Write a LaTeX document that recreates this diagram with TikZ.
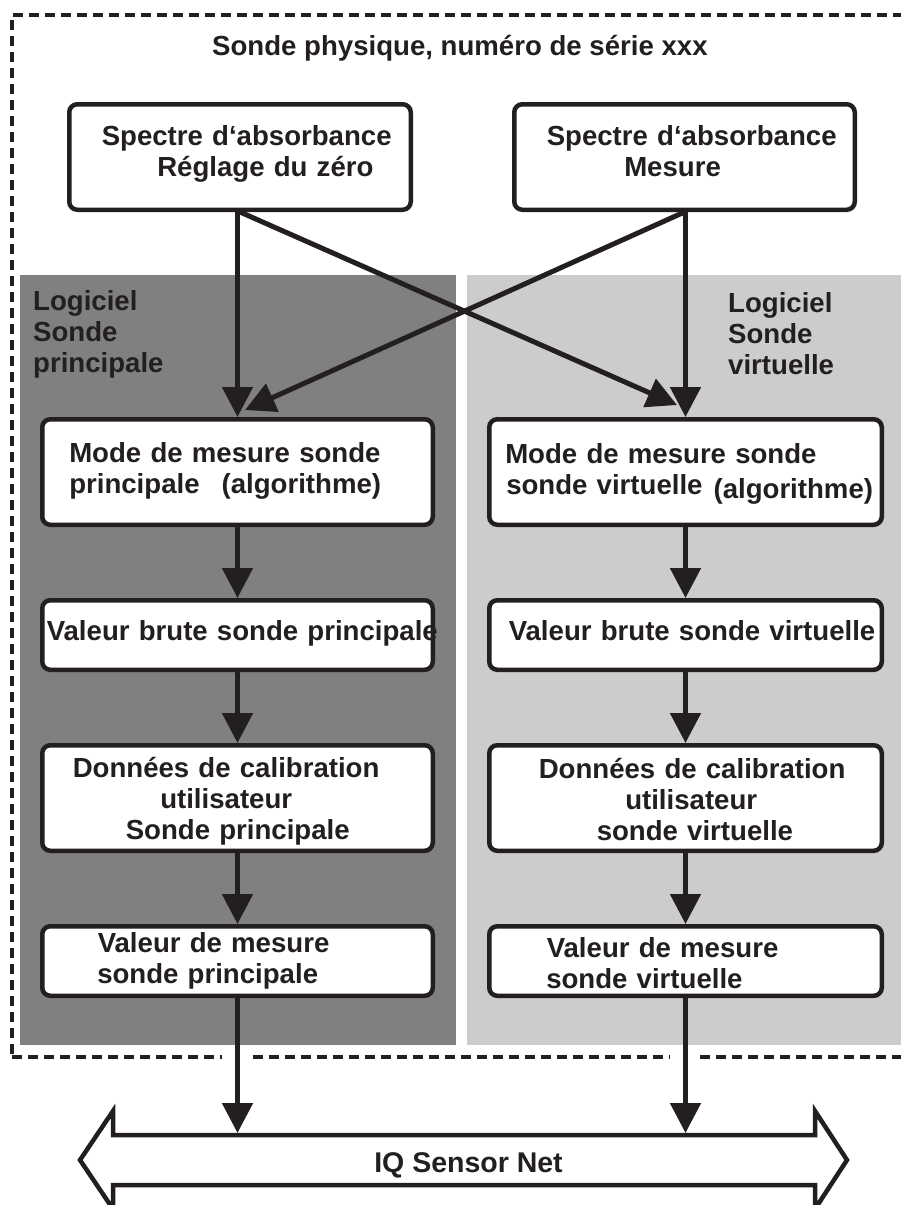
\documentclass[tikz,border=0pt]{standalone}
\usepackage{fontspec}
\setmainfont{Liberation Sans}
\usetikzlibrary{arrows.meta,calc}
\definecolor{ink}{RGB}{35,31,32}
\definecolor{panelA}{RGB}{128,128,128}
\definecolor{panelB}{RGB}{204,204,204}
\newcommand{\lineat}[2]{\hspace*{#1pt}\mbox{#2}}
\newcommand{\bigtxt}{\fontsize{27.6}{31}\selectfont\bfseries}
\begin{document}
\begin{tikzpicture}[x=1pt,y=-1pt,
  box/.style={draw=ink, line width=4.5pt, rounded corners=8pt, fill=white,
    inner sep=0pt, align=left, text=ink, font=\bigtxt, text height=20pt},
  colL/.style={box, text width=390.5pt, minimum width=390.5pt},
  colR/.style={box, text width=392.5pt, minimum width=392.5pt},
  tall/.style={minimum height=105.5pt},
  short/.style={minimum height=69.5pt},
  arr/.style={draw=ink, line width=5pt, -{Triangle[width=30pt,length=30pt]}},
  lab/.style={text=ink, font=\bigtxt, inner sep=0pt, align=left,
    text width=220pt, anchor=north west, text height=20pt, text depth=70pt},
  frame/.style={draw=ink, line width=4.5pt, dash pattern=on 10pt off 6pt}]
\useasboundingbox (0,0) rectangle (901,1205);
% panels
\fill[panelA] (20,275) rectangle (456,1045);
\fill[panelB] (467,275) rectangle (905,1045);
% dashed frame
\draw[frame] (12,1054) -- (12,15) -- (905,15);
\draw[frame] (12,1057) -- (222,1057);
\draw[frame] (253,1057) -- (670,1057);
\draw[frame] (700,1057) -- (905,1057);
% title and labels
\node[anchor=base west, inner sep=0pt, text=ink, font=\bigtxt] (title) at (212,55) {Sonde physique, numéro de série xxx};
\node[lab] (logL) at (33,290) {Logiciel\\Sonde\\principale};
\node[lab] (logR) at (728,292) {Logiciel\\Sonde\\virtuelle};
% top boxes
\node[box, text width=341.5pt, minimum width=341.5pt, tall, text depth=44pt] (tl) at (240,157)
  {\lineat{32.5}{Spectre d‘absorbance}\\\lineat{88}{Réglage du zéro}};
\node[box, text width=340.5pt, minimum width=340.5pt, tall, text depth=44pt] (tr) at (684.5,157)
  {\lineat{32.5}{Spectre d‘absorbance}\\\lineat{110}{Mesure}};
% left column
\node[colL, tall, text depth=40pt] (ml) at (237.5,472)
  {\lineat{27}{Mode de mesure sonde}\\\lineat{27}{principale\hspace{22pt}(algorithme)}};
\node[colL, short, text depth=10pt] (bl) at (237.5,635)
  {\lineat{4.5}{Valeur brute sonde principale}};
\node[colL, tall, text depth=62pt] (dl) at (237.5,798)
  {\lineat{30.5}{Données de calibration}\\\lineat{118}{utilisateur}\\\lineat{83.5}{Sonde principale}};
\node[colL, short, text depth=38pt] (vl) at (237.5,961)
  {\lineat{55.5}{Valeur de mesure}\\\lineat{55}{sonde principale}};
% right column
\node[colR, tall, text depth=38pt] (mr) at (685.5,472)
  {\lineat{16}{Mode de mesure sonde}\\\lineat{17}{sonde virtuelle\hspace{11pt}\raisebox{-4pt}{(algorithme)}}};
\node[colR, short, text depth=10pt] (br) at (685.5,635)
  {\lineat{19.5}{Valeur brute sonde virtuelle}};
\node[colR, tall, text depth=60pt] (dr) at (685.5,798)
  {\lineat{49.5}{Données de calibration}\\\lineat{136}{utilisateur}\\\lineat{107.5}{sonde virtuelle}};
\node[colR, short, text depth=28pt] (vr) at (685.5,961)
  {\lineat{57.5}{Valeur de mesure}\\\lineat{57}{sonde virtuelle}};
% bus
\draw[draw=ink, line width=4.5pt, line join=miter, fill=white]
  (80,1160) -- (113,1111) -- (113,1135) -- (815,1135) -- (815,1111) -- (847,1160)
  -- (815,1209) -- (815,1185) -- (113,1185) -- (113,1209) -- cycle;
\node[anchor=base, inner sep=0pt, text=ink, font=\fontsize{28.5}{31}\selectfont\bfseries] (net) at (468.5,1172) {IQ Sensor Net};
\coordinate (busL) at (237.5,1133);
\coordinate (busR) at (685.5,1133);
% arrows
\draw[arr] (tl.south -| ml.north) -- (ml.north);
\draw[arr] (tr.south -| mr.north) -- (mr.north);
\draw[arr] (tl.south) -- ($(mr.north)+(-8.5,-12)$);
\draw[arr] (tr.south) -- ($(ml.north)+(7.5,-7)$);
\draw[arr] (ml.south) -- (bl.north);
\draw[arr] (bl.south) -- (dl.north);
\draw[arr] (dl.south) -- (vl.north);
\draw[arr] (mr.south) -- (br.north);
\draw[arr] (br.south) -- (dr.north);
\draw[arr] (dr.south) -- (vr.north);
\draw[arr] (vl.south) -- (busL);
\draw[arr] (vr.south) -- (busR);
\end{tikzpicture}
\end{document}
